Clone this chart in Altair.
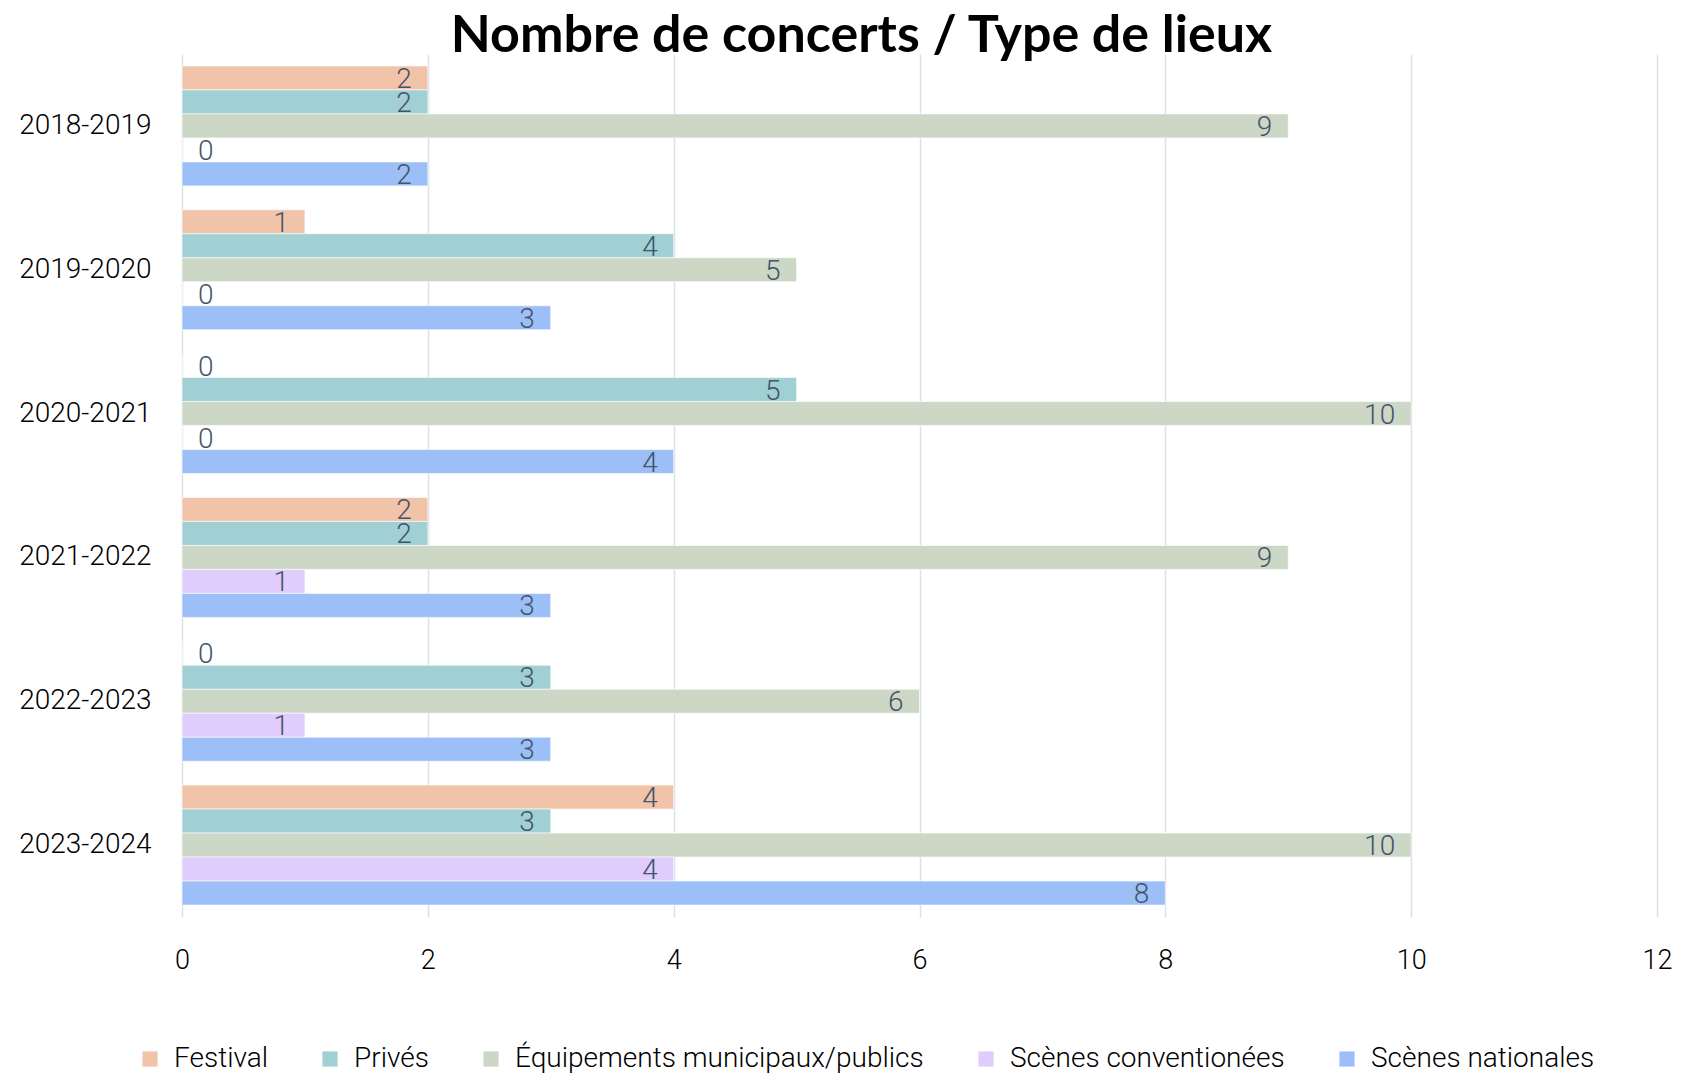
import altair as alt
import pandas as pd

seasons = ["2018-2019", "2019-2020", "2020-2021", "2021-2022", "2022-2023", "2023-2024"]
series = ["Festival", "Privés", "Équipements municipaux/publics", "Scènes conventionées", "Scènes nationales"]
festival = [2, 1, 0, 2, 0, 4]
prives = [2, 4, 5, 2, 3, 3]
equipements = [9, 5, 10, 9, 6, 10]
conventionees = [0, 0, 0, 1, 1, 4]
nationales = [2, 3, 4, 3, 3, 8]
colors = ["#F1C4AA", "#A0CFD4", "#CCD7C6", "#E0CCFD", "#9DBFF8"]
x_ticks = [0, 2, 4, 6, 8, 10, 12]

rows = []
for name, vals in zip(series, [festival, prives, equipements, conventionees, nationales]):
    for s, v in zip(seasons, vals):
        rows.append({"Saison": s, "Type": name, "Valeur": v})
df = pd.DataFrame(rows)

y = alt.Y(
    "Saison:N",
    sort=seasons,
    scale=alt.Scale(paddingInner=0.166, paddingOuter=0.083),
    axis=alt.Axis(
        title=None, labelFont="Roboto", labelFontSize=28, labelFontWeight=300,
        labelColor="black", labelPadding=31, ticks=False, domain=False, grid=False,
    ),
)
yoff = alt.YOffset("Type:N", sort=series, scale=alt.Scale(paddingInner=0, paddingOuter=0))
x = alt.X(
    "Valeur:Q",
    scale=alt.Scale(domain=[0, 12], nice=False),
    axis=alt.Axis(
        title=None, values=x_ticks, labelFont="Roboto", labelFontSize=27,
        labelFontWeight=300, labelColor="black", labelPadding=30, ticks=False,
        labelFlush=False, domain=False, gridColor="#DCE1E8", gridWidth=1.5,
    ),
)

bars = alt.Chart(df).mark_bar(stroke="white", strokeWidth=1, strokeOpacity=0.6).encode(
    x=x,
    y=y,
    yOffset=yoff,
    color=alt.Color(
        "Type:N",
        sort=series,
        scale=alt.Scale(domain=series, range=colors),
        legend=alt.Legend(
            orient="none", legendX=-46, legendY=991, direction="horizontal",
            title=None, symbolType="square", symbolSize=230, symbolStrokeWidth=0,
            labelFont="Roboto", labelFontSize=28, labelFontWeight=300,
            labelColor="black", labelOffset=10, columnPadding=48, labelLimit=600,
        ),
    ),
)

lab_pos = alt.Chart(df).transform_filter("datum.Valeur > 0").mark_text(
    align="right", baseline="middle", dx=-16, dy=2, font="Roboto", fontSize=28,
    fontWeight=300, color="#44546A",
).encode(x=x, y=y, yOffset=yoff, text="Valeur:Q")

lab_zero = alt.Chart(df).transform_filter("datum.Valeur == 0").mark_text(
    align="left", baseline="middle", dx=16, dy=2, font="Roboto", fontSize=28,
    fontWeight=300, color="#44546A",
).encode(x=x, y=y, yOffset=yoff, text="Valeur:Q")

chart = alt.layer(bars, lab_pos, lab_zero).properties(
    width=1475,
    height=863,
    title=alt.Title(
        "Nombre de concerts / Type de lieux", font="Lato", fontSize=52,
        fontWeight="bold", color="black", anchor="middle", frame="group",
        dx=-58, offset=-9,
    ),
    autosize=alt.AutoSizeParams(type="none"),
    padding={"left": 174, "top": 46, "right": 16, "bottom": 159},
).configure_view(stroke=None)

chart.save("out.html", embed_options={"renderer": "svg", "actions": False})
